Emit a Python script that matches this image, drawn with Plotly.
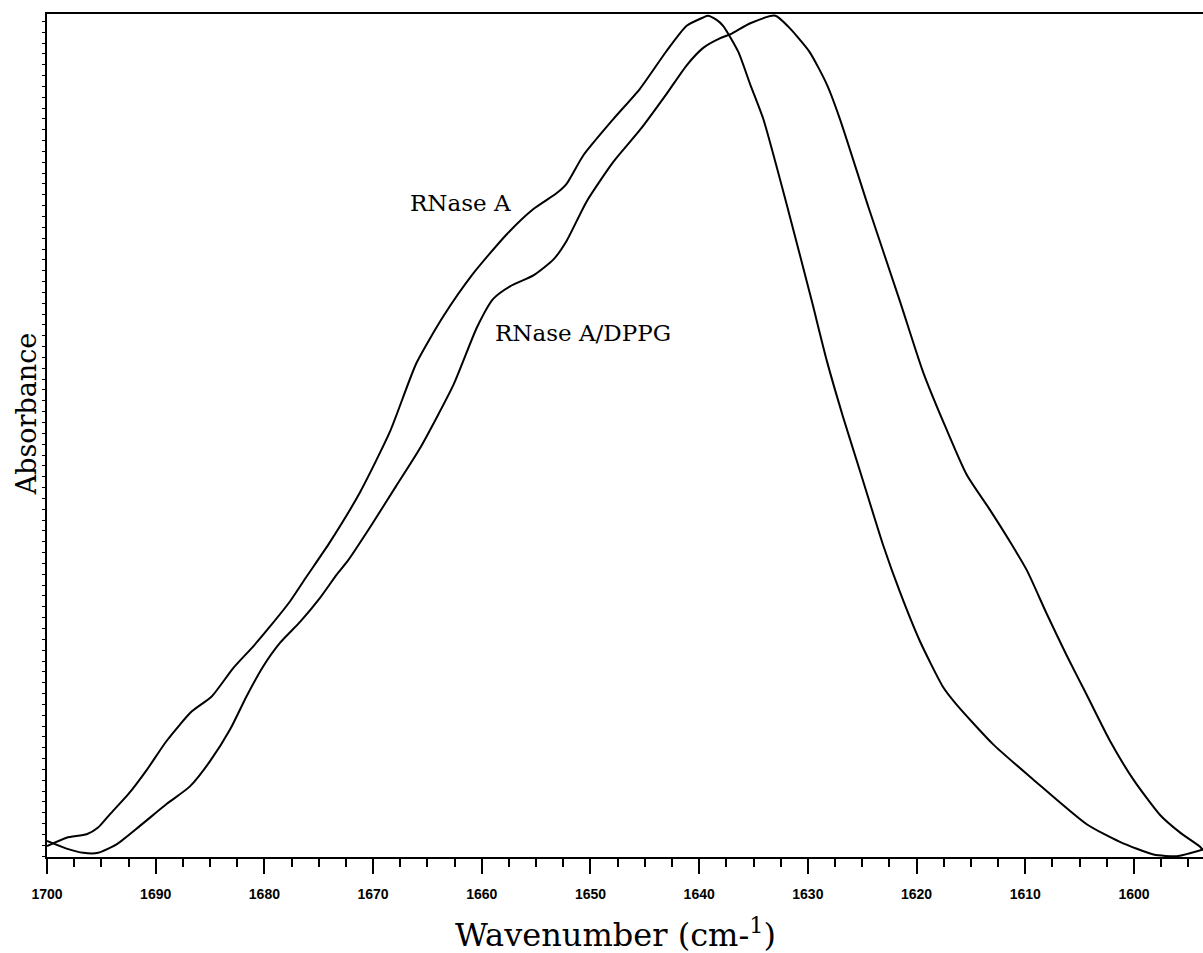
import plotly.graph_objects as go

# Wavenumber (cm-1) and relative absorbance
rnase_wn = [1700.0, 1698.2, 1696.35, 1695.3, 1694.2, 1692.5, 1690.8, 1689.0, 1686.7, 1684.85,
            1682.85, 1681.0, 1679.5, 1677.65, 1676.1, 1674.0, 1671.2, 1668.45, 1666.0, 1663.55,
            1660.8, 1657.7, 1655.25, 1653.1, 1652.2, 1650.65, 1647.9, 1645.45, 1643.0, 1641.15,
            1639.6, 1639.2, 1638.4, 1637.8, 1636.4, 1635.3, 1634.1, 1631.9, 1629.65, 1628.25,
            1626.75, 1625.2, 1623.05, 1621.55, 1619.7, 1617.55, 1616.3, 1612.95, 1609.25, 1604.35,
            1601.3, 1598.2, 1596.05, 1593.9, 1593.65]
rnase_abs = [0.012, 0.022, 0.026, 0.034, 0.050, 0.074, 0.103, 0.137, 0.172, 0.190,
             0.224, 0.250, 0.273, 0.303, 0.333, 0.373, 0.433, 0.505, 0.587, 0.642,
             0.693, 0.740, 0.770, 0.789, 0.800, 0.834, 0.877, 0.913, 0.958, 0.988,
             0.998, 1.000, 0.995, 0.988, 0.957, 0.918, 0.877, 0.773, 0.661, 0.589,
             0.522, 0.458, 0.369, 0.315, 0.256, 0.201, 0.180, 0.133, 0.091, 0.038,
             0.017, 0.002, 0.000, 0.007, 0.008]

dppg_wn = [1700.0, 1698.2, 1696.65, 1695.3, 1693.6, 1691.45, 1689.0, 1686.85, 1685.0, 1683.15,
           1681.65, 1680.1, 1678.55, 1676.7, 1674.9, 1673.35, 1672.3, 1670.1, 1667.9, 1665.7,
           1662.6, 1660.45, 1658.95, 1657.4, 1655.25, 1653.4, 1652.2, 1650.35, 1647.9, 1645.45,
           1643.0, 1641.15, 1639.6, 1638.1, 1637.1, 1635.3, 1633.0, 1631.8, 1629.85, 1628.25,
           1627.05, 1624.45, 1621.55, 1619.4, 1617.55, 1615.4, 1613.25, 1611.4, 1609.85, 1608.05,
           1606.2, 1604.35, 1602.2, 1600.05, 1597.6, 1595.75, 1593.9, 1593.65]
dppg_abs = [0.018, 0.009, 0.004, 0.004, 0.014, 0.036, 0.062, 0.083, 0.113, 0.151,
            0.190, 0.226, 0.254, 0.279, 0.307, 0.335, 0.352, 0.395, 0.440, 0.485,
            0.561, 0.629, 0.663, 0.678, 0.691, 0.710, 0.732, 0.779, 0.826, 0.864,
            0.907, 0.941, 0.962, 0.973, 0.978, 0.991, 1.000, 0.987, 0.957, 0.918,
            0.877, 0.773, 0.661, 0.576, 0.517, 0.454, 0.412, 0.374, 0.340, 0.289,
            0.239, 0.192, 0.137, 0.091, 0.049, 0.028, 0.011, 0.007]

tick_vals = [1700, 1690, 1680, 1670, 1660, 1650, 1640, 1630, 1620, 1610, 1600]
tick_text = [str(v) for v in tick_vals]

series_labels = ["RNase A", "RNase A/DPPG"]
label_pos = [(1666.8, 0.777), (1659.0, 0.622)]

SERIF = "DejaVu Serif"

fig = go.Figure()
for wn, ab, name in [(rnase_wn, rnase_abs, series_labels[0]), (dppg_wn, dppg_abs, series_labels[1])]:
    fig.add_trace(go.Scatter(x=wn, y=ab, mode="lines", name=name,
                             line=dict(color="black", width=2, shape="spline", smoothing=0.6),
                             showlegend=False, hoverinfo="skip"))

for (lx, ly), txt in zip(label_pos, series_labels):
    fig.add_annotation(x=lx, y=ly, text=txt, showarrow=False, xanchor="left", yanchor="middle",
                       font=dict(family=SERIF, size=23, color="black"))

fig.add_annotation(x=0.492, y=-0.0905, xref="paper", yref="paper", text="Wavenumber (cm-<sup>1</sup>)",
                   showarrow=False, xanchor="center", yanchor="middle",
                   font=dict(family=SERIF, size=32, color="black"))
fig.add_annotation(x=-0.0175, y=0.526, xref="paper", yref="paper", text="Absorbance",
                   showarrow=False, xanchor="center", yanchor="middle", textangle=-90,
                   font=dict(family=SERIF, size=27, color="black"))

fig.update_xaxes(range=[1700, 1593.65], tickmode="array", tickvals=tick_vals, ticktext=tick_text,
                 ticks="outside", ticklen=15, tickwidth=1.5, tickcolor="black",
                 minor=dict(dtick=2.5, tick0=1600, ticks="outside", ticklen=8, tickwidth=1.5, tickcolor="black"),
                 showline=True, linecolor="black", linewidth=2, mirror=True,
                 showgrid=False, zeroline=False, ticklabelstandoff=8,
                 tickfont=dict(family="Liberation Sans", size=14, color="black", weight="bold"))
fig.update_yaxes(range=[-0.001, 1.002], showticklabels=False, ticks="outside", ticklen=3,
                 tickwidth=1, tickcolor="black", tick0=0, dtick=0.0129,
                 showline=True, linecolor="black", linewidth=2, mirror=False,
                 showgrid=False, zeroline=False)

fig.update_layout(width=1203, height=953, autosize=False,
                  margin=dict(l=47, r=0, t=14, b=96),
                  paper_bgcolor="white", plot_bgcolor="white")

fig.write_html("out.html", config={"displayModeBar": False},
               post_script="document.body.style.margin='0px';document.body.style.overflow='hidden';")
